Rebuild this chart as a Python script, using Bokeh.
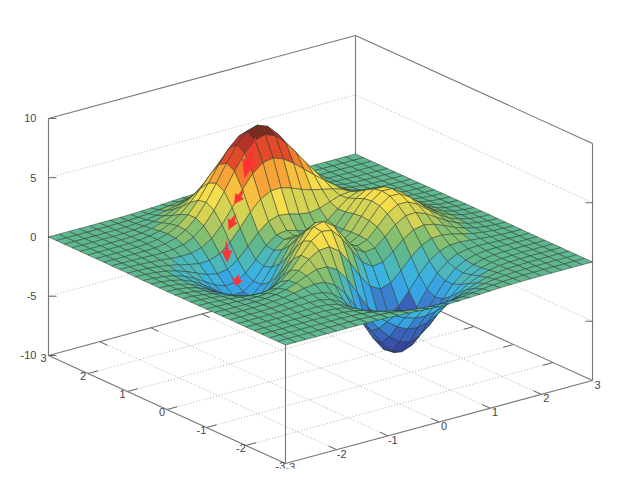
from bokeh.plotting import figure
from bokeh.embed import file_html
from bokeh.resources import INLINE
from bokeh.core.properties import value

grid_vals = [-3.0,-2.8,-2.6,-2.4,-2.2,-2.0,-1.8,-1.6,-1.4,-1.2,-1.0,-0.8,-0.6,-0.4,-0.2,0.0,
             0.2,0.4,0.6,0.8,1.0,1.2,1.4,1.6,1.8,2.0,2.2,2.4,2.6,2.8,3.0]
# rows run over y = -3 ... 3, columns over x = -3 ... 3
z_rows = [
[0,0,0,0,0,0,.01,0,0,-.01,-.03,-.07,-.11,-.17,-.21,-.25,-.26,-.24,-.2,-.16,-.11,-.07,-.04,-.02,-.01,0,0,0,0,0,0],
[0,0,0,0,0,.01,.01,.01,0,-.03,-.08,-.15,-.26,-.38,-.48,-.55,-.57,-.53,-.45,-.35,-.25,-.16,-.09,-.05,-.02,-.01,0,0,0,0,0],
[0,0,0,0,.01,.01,.01,.01,-.01,-.07,-.17,-.34,-.55,-.79,-1.01,-1.15,-1.18,-1.11,-.94,-.72,-.50,-.32,-.19,-.1,-.05,-.02,-.01,0,0,0,0],
[0,0,0,.01,.01,.02,.02,.01,-.03,-.13,-.33,-.63,-1.03,-1.47,-1.87,-2.13,-2.19,-2.04,-1.73,-1.33,-.93,-.59,-.34,-.18,-.08,-.03,-.01,0,0,0,0],
[0,0,0,.01,.02,.03,.04,.03,-.03,-.18,-.48,-.95,-1.58,-2.28,-2.93,-3.36,-3.48,-3.25,-2.76,-2.12,-1.48,-.93,-.53,-.27,-.12,-.05,-.02,0,0,0,0],
[0,0,.01,.01,.03,.05,.07,.07,0,-.19,-.59,-1.24,-2.14,-3.15,-4.10,-4.76,-4.96,-4.66,-3.96,-3.03,-2.10,-1.32,-.74,-.37,-.16,-.06,-.02,0,0,0,0],
[0,0,.01,.02,.03,.07,.11,.13,.10,-.08,-.51,-1.27,-2.36,-3.64,-4.89,-5.79,-6.12,-5.80,-4.94,-3.78,-2.60,-1.59,-.87,-.41,-.16,-.05,-.01,0,0,0,0],
[0,0,0,.01,.04,.08,.15,.23,.28,.19,-.14,-.85,-1.97,-3.39,-4.85,-5.99,-6.49,-6.25,-5.35,-4.07,-2.74,-1.62,-.82,-.34,-.10,0,.02,.02,.01,.01,0],
[0,0,0,0,.02,.07,.16,.30,.48,.59,.52,.06,-.86,-2.20,-3.73,-5.04,-5.76,-5.70,-4.92,-3.68,-2.38,-1.27,-.52,-.10,.07,.11,.08,.05,.03,.01,0],
[0,-.01,-.02,-.03,-.03,.01,.11,.30,.62,1.00,1.30,1.29,.81,-.24,-1.65,-3.05,-3.98,-4.19,-3.64,-2.61,-1.48,-.53,.06,.32,.35,.28,.18,.10,.05,.02,.01],
[-.01,-.02,-.04,-.08,-.12,-.13,-.07,.12,.54,1.15,1.86,2.38,2.44,1.84,.66,-.72,-1.83,-2.28,-2.0,-1.20,-.28,.46,.83,.87,.72,.50,.30,.17,.08,.04,.01],
[-.02,-.04,-.08,-.15,-.25,-.36,-.40,-.29,.13,.87,1.89,2.86,3.44,3.29,2.39,1.09,-.09,-.68,-.55,.12,.91,1.48,1.65,1.48,1.13,.75,.45,.24,.11,.05,.02],
[-.02,-.06,-.12,-.24,-.42,-.65,-.85,-.91,-.62,.12,1.28,2.55,3.53,3.74,3.11,1.93,.78,.20,.35,1.05,1.85,2.36,2.40,2.06,1.53,1.01,.59,.31,.15,.07,.02],
[-.03,-.07,-.17,-.33,-.59,-.95,-1.33,-1.59,-1.50,-.90,.27,1.67,2.87,3.34,2.92,1.91,.88,.42,.72,1.57,2.46,3.01,2.99,2.53,1.86,1.22,.71,.38,.18,.08,.03],
[-.04,-.09,-.20,-.40,-.73,-1.19,-1.74,-2.20,-2.32,-1.89,-.81,.60,1.91,2.54,2.31,1.47,.60,.31,.79,1.80,2.82,3.41,3.37,2.84,2.09,1.36,.80,.42,.20,.09,.03],
[-.04,-.09,-.21,-.44,-.80,-1.33,-1.97,-2.57,-2.85,-2.58,-1.64,-.30,1.02,1.74,1.65,.98,.29,.16,.76,1.86,2.93,3.54,3.50,2.94,2.16,1.41,.82,.44,.20,.09,.03],
[-.04,-.09,-.21,-.44,-.80,-1.33,-2.0,-2.65,-3.03,-2.88,-2.09,-.88,.36,1.09,1.11,.60,.06,.05,.69,1.78,2.82,3.40,3.35,2.82,2.07,1.35,.79,.42,.19,.09,.03],
[-.03,-.08,-.19,-.39,-.72,-1.22,-1.84,-2.45,-2.84,-2.77,-2.13,-1.09,.01,.70,.78,.41,.01,.05,.65,1.62,2.53,3.03,2.98,2.49,1.83,1.19,.70,.37,.17,.08,.03],
[-.03,-.07,-.16,-.33,-.60,-1.01,-1.52,-2.03,-2.35,-2.29,-1.74,-.84,.13,.78,.93,.69,.39,.41,.85,1.58,2.25,2.60,2.50,2.08,1.51,.98,.57,.30,.14,.06,.02],
[-.02,-.05,-.12,-.24,-.45,-.75,-1.11,-1.46,-1.64,-1.49,-.91,-.04,.92,1.62,1.89,1.78,1.53,1.42,1.56,1.88,2.18,2.27,2.08,1.67,1.19,.77,.44,.23,.11,.05,.02],
[-.01,-.04,-.08,-.16,-.30,-.48,-.69,-.85,-.82,-.48,.23,1.23,2.32,3.19,3.66,3.69,3.43,3.09,2.81,2.62,2.43,2.17,1.80,1.36,.93,.58,.33,.17,.08,.03,.01],
[-.01,-.02,-.05,-.09,-.16,-.25,-.31,-.28,-.04,.51,1.43,2.63,3.94,5.04,5.73,5.90,5.59,4.99,4.27,3.55,2.87,2.24,1.65,1.14,.74,.44,.24,.12,.05,.02,.01],
[-.01,-.01,-.02,-.04,-.06,-.08,-.03,.15,.55,1.26,2.34,3.70,5.17,6.46,7.32,7.57,7.24,6.44,5.38,4.25,3.20,2.29,1.56,.99,.60,.33,.17,.08,.04,.02,0],
[0,-.01,-.01,-.01,0,.03,.14,.38,.85,1.62,2.72,4.09,5.56,6.87,7.77,8.06,7.73,6.86,5.68,4.40,3.20,2.19,1.41,.85,.48,.25,.13,.06,.03,.01,0],
[0,0,0,0,.02,.07,.20,.45,.89,1.60,2.58,3.80,5.11,6.28,7.09,7.37,7.07,6.27,5.17,3.96,2.83,1.89,1.17,.68,.37,.19,.09,.04,.02,.01,0],
[0,0,0,.01,.03,.08,.19,.39,.76,1.32,2.10,3.05,4.07,4.99,5.63,5.86,5.62,4.99,4.10,3.12,2.21,1.45,.89,.50,.27,.13,.06,.03,.01,0,0],
[0,0,0,.01,.02,.06,.14,.29,.54,.93,1.47,2.13,2.83,3.47,3.91,4.07,3.91,3.47,2.85,2.16,1.52,.99,.60,.34,.18,.08,.04,.02,.01,0,0],
[0,0,0,.01,.02,.04,.09,.19,.35,.59,.93,1.34,1.78,2.17,2.45,2.55,2.45,2.17,1.78,1.35,.95,.62,.37,.21,.11,.05,.02,.01,0,0,0],
[0,0,0,0,.01,.02,.05,.10,.19,.32,.50,.72,.96,1.18,1.33,1.38,1.33,1.18,.96,.73,.51,.33,.20,.11,.06,.03,.01,.01,0,0,0],
[0,0,0,0,.01,.01,.03,.05,.09,.16,.25,.35,.47,.57,.64,.67,.64,.57,.47,.35,.25,.16,.09,.05,.03,.01,.01,0,0,0,0],
[0,0,0,0,0,.01,.01,.02,.04,.07,.11,.16,.21,.26,.29,.30,.29,.26,.21,.16,.11,.07,.04,.02,.01,.01,0,0,0,0,0],
]
band_colors = ["#2f3a90","#37459f","#3a50ac","#3b62bb","#3a80cf","#38a4e4","#3bb3de","#4db8bc","#5fb890",
               "#85c070","#afc860","#d6d252","#f5dd4b","#f8c03f","#f8a337","#f27d2d","#e34a2a","#b5322a","#7c2a20"]
z_low, z_high = -6.6, 8.2
x_ticks = [-3,-2,-1,0,1,2,3]
y_ticks = [-3,-2,-1,0,1,2,3]
z_ticks = [-10,-5,0,5,10]
# gradient-descent arrows: (tail x,y,z), (tip x,y,z), head half width
arrows = [
    ((-.03,1.6,7.06), (-.48,1.3,4.63), 7),
    ((-.727,1.0,4.37), (-1.063,.8,3.88), 5),
    ((-1.192,.6,3.49), (-1.483,.4,2.81), 5),
    ((-1.837,0,2.82), (-1.977,-.2,1.54), 5),
    ((-1.911,-.4,.73), (-2.118,-.6,.35), 5.5),
]

def proj(x, y, z):
    return (320 + 51.17*x - 39.5*y, 249 - 13.83*x - 18.0*y - 11.85*z)

p = figure(width=616, height=480, x_range=(0,616), y_range=(480,0), output_backend="svg",
           toolbar_location=None, x_axis_type=None, y_axis_type=None, min_border=0,
           outline_line_color=None, background_fill_color="white", border_fill_color="white")
p.grid.visible = False

GRID = dict(line_color="#b4b4b4", line_width=1, line_dash="1 2")
BOX = dict(line_color="#777777", line_width=1.1)

def seg(a, b, **kw):
    pa, pb = proj(*a), proj(*b)
    p.line([pa[0], pb[0]], [pa[1], pb[1]], **kw)

# walls and floor
for z in z_ticks[1:-1]:
    seg((-3,3,z), (3,3,z), **GRID)
    seg((3,3,z), (3,-3,z), **GRID)
for t in x_ticks[1:-1]:
    seg((t,-3,-10), (t,3,-10), **GRID)
for t in y_ticks[1:-1]:
    seg((-3,t,-10), (3,t,-10), **GRID)
for a, b in [((-3,3,-10),(-3,3,10)), ((-3,3,10),(3,3,10)), ((3,3,10),(3,-3,10)), ((3,-3,10),(3,-3,-10)),
             ((3,3,-10),(3,3,10)), ((-3,3,-10),(3,3,-10)), ((3,3,-10),(3,-3,-10)),
             ((-3,3,-10),(-3,-3,-10)), ((-3,-3,-10),(3,-3,-10)), ((-3,-3,-10),(-3,-3,0))]:
    seg(a, b, **BOX)
TICK = dict(line_color="#666666", line_width=1)
for t in x_ticks[1:-1]:
    seg((t,-3,-10), (t,-2.8,-10), **TICK)
    seg((t,3,-10), (t,2.8,-10), **TICK)
for t in y_ticks[1:-1]:
    seg((-3,t,-10), (-2.8,t,-10), **TICK)
    seg((3,t,-10), (2.8,t,-10), **TICK)
for z in z_ticks:
    sx, sy = proj(-3,3,z)
    p.line([sx, sx+8], [sy, sy], **TICK)
for z in z_ticks[1:-1]:
    sx, sy = proj(3,-3,z)
    p.line([sx-7, sx], [sy, sy], **TICK)

# surface, back to front
cells = []
n = len(grid_vals)
for j in range(n-1):
    for i in range(n-1):
        corners = [(i,j),(i+1,j),(i+1,j+1),(i,j+1)]
        zm = sum(z_rows[b][a] for a,b in corners)/4
        xm = (grid_vals[i]+grid_vals[i+1])/2
        ym = (grid_vals[j]+grid_vals[j+1])/2
        k = int((zm-z_low)/(z_high-z_low)*len(band_colors))
        k = max(0, min(len(band_colors)-1, k))
        pts = [proj(grid_vals[a], grid_vals[b], z_rows[b][a]) for a,b in corners]
        cells.append((13.83*xm+18*ym, [q[0] for q in pts], [q[1] for q in pts], band_colors[k]))
cells.sort(key=lambda c: -c[0])
p.patches([c[1] for c in cells], [c[2] for c in cells], fill_color=[c[3] for c in cells],
          line_color="#2c4034", line_alpha=0.75, line_width=0.7)

# arrows
xs_a, ys_a = [], []
for tail, tip, w in arrows:
    t0, t1 = proj(*tail), proj(*tip)
    dx, dy = t1[0]-t0[0], t1[1]-t0[1]
    L = (dx*dx+dy*dy)**.5
    ux, uy = dx/L, dy/L
    nx, ny = -uy, ux
    hl = min(L*.55, 18)
    nk = (t1[0]-ux*hl, t1[1]-uy*hl)
    xs_a.append([t0[0], nk[0]+nx*w*.4, nk[0]+nx*w, t1[0], nk[0]-nx*w, nk[0]-nx*w*.4])
    ys_a.append([t0[1], nk[1]+ny*w*.4, nk[1]+ny*w, t1[1], nk[1]-ny*w, nk[1]-ny*w*.4])
p.patches(xs_a, ys_a, fill_color="#ff3333", line_color="#ff3333", line_width=0.5)

# labels
FONT = dict(text_font=value("Liberation Sans"), text_font_size="11px", text_color="#444444",
            text_baseline="middle")
for z in z_ticks:
    sx, sy = proj(-3,3,z)
    p.text([sx-12], [sy], text=[str(z)], text_align="right", **FONT)
for t in y_ticks:
    sx, sy = proj(-3,t,-10)
    p.text([sx-5], [sy+3], text=[str(t)], text_align="center", **FONT)
for t in x_ticks:
    sx, sy = proj(t,-3,-10)
    p.text([sx+5], [sy+4], text=[str(t)], text_align="center", **FONT)

# the reference image is cut off just below the lowest labels
p.quad(left=[0], right=[616], top=[468], bottom=[480], fill_color="white", line_color=None)

open("out.html", "w").write(file_html(p, INLINE))
